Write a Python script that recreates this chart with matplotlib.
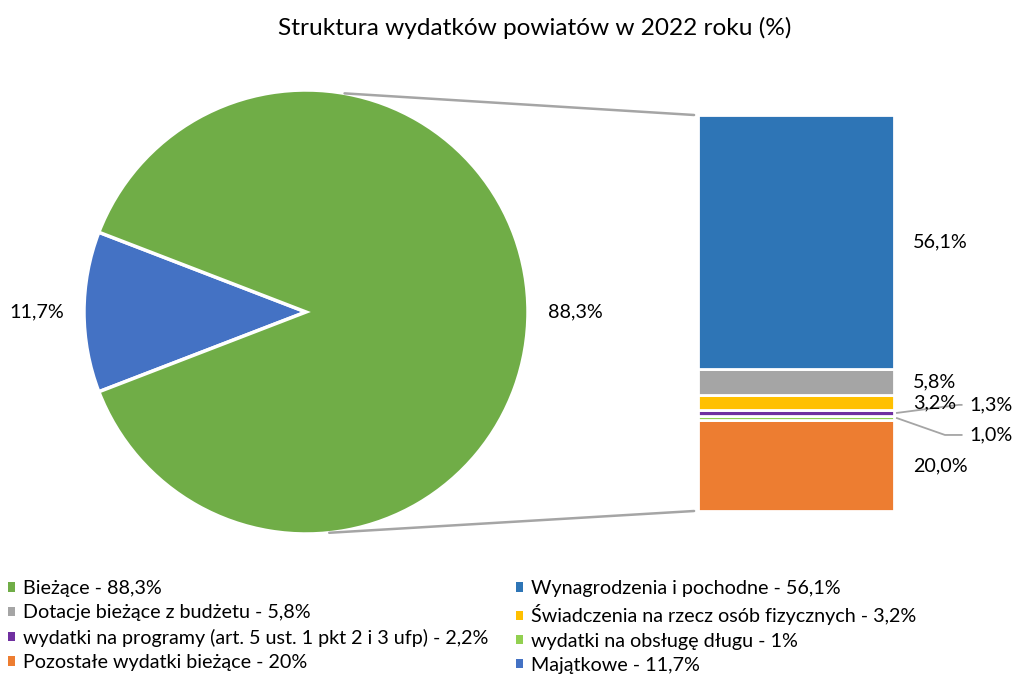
import matplotlib.pyplot as plt
from matplotlib.patches import Patch, ConnectionPatch
import numpy as np

plt.rcParams['font.family'] = ['Lato', 'DejaVu Sans']

# --- dane ---
pie_labels = ["Majątkowe", "Bieżące"]
pie_values = [11.7, 88.3]
pie_colors = ["#4472C4", "#70AD47"]

# rozbicie wydatków bieżących (od dołu słupka do góry)
bar_labels = ["Pozostałe wydatki bieżące", "wydatki na obsługę długu",
              "wydatki na programy (art. 5 ust. 1 pkt 2 i 3 ufp)",
              "Świadczenia na rzecz osób fizycznych",
              "Dotacje bieżące z budżetu", "Wynagrodzenia i pochodne"]
bar_values = [20.0, 1.0, 1.3, 3.2, 5.8, 56.1]
bar_colors = ["#ED7D31", "#92D050", "#7030A0", "#FFC000", "#A5A5A5", "#2E75B6"]

legend_texts = ["Bieżące - 88,3%", "Dotacje bieżące z budżetu - 5,8%",
                "wydatki na programy (art. 5 ust. 1 pkt 2 i 3 ufp) - 2,2%",
                "Pozostałe wydatki bieżące - 20%",
                "Wynagrodzenia i pochodne - 56,1%",
                "Świadczenia na rzecz osób fizycznych - 3,2%",
                "wydatki na obsługę długu - 1%", "Majątkowe - 11,7%"]
legend_colors = ["#70AD47", "#A5A5A5", "#7030A0", "#ED7D31",
                 "#2E75B6", "#FFC000", "#92D050", "#4472C4"]

W, H = 1013, 675
FS = 14.2
fig = plt.figure(figsize=(W / 100, H / 100), dpi=100)

def px_axes(x0, y0, x1, y1):
    return fig.add_axes([x0 / W, 1 - y1 / H, (x1 - x0) / W, (y1 - y0) / H])

def pct(v):
    return f"{v:.1f}%".replace(".", ",")

# --- wykres kołowy ---
ax_pie = px_axes(84, 90, 528, 534)
start = 180 - pie_values[0] / 100 * 360 / 2
wedges, _, autotexts = ax_pie.pie(
    pie_values, colors=pie_colors, startangle=start, radius=1,
    autopct=lambda p: pct(p), pctdistance=1.215,
    wedgeprops=dict(edgecolor="white", linewidth=2.5))
for t in autotexts:
    t.set_fontsize(FS)
    t.set_color("black")
ax_pie.set_xlim(-1, 1)
ax_pie.set_ylim(-1, 1)
ax_pie.set_aspect("equal")

# --- słupek ---
ax_bar = px_axes(698, 115, 894, 511)
bottoms = np.concatenate([[0], np.cumsum(bar_values)[:-1]])
ax_bar.bar(0, bar_values, width=1, bottom=bottoms, color=bar_colors,
           edgecolor="white", linewidth=2.0)
total = sum(bar_values)
ax_bar.set_xlim(-0.5, 0.5)
ax_bar.set_ylim(0, total)
ax_bar.axis("off")
ytr = ax_bar.get_yaxis_transform()

for b, v in zip(bottoms, bar_values):
    if v < 2:
        continue
    ax_bar.text(1.097, b + v / 2, pct(v), transform=ytr,
                ha="left", va="center", fontsize=FS)

# małe etykiety z liniami odniesienia
for idx, ty, bend in [(2, 0.268, 1.33), (1, 0.192, 1.26)]:
    v = bar_values[idx]
    yc = bottoms[idx] + v / 2
    yt = ty * total
    ax_bar.plot([1.015, bend, 1.345], [yc, yt, yt], transform=ytr,
                color="#A5A5A5", lw=1.3, clip_on=False)
    ax_bar.text(1.385, yt, pct(v), transform=ytr, ha="left", va="center",
                fontsize=FS)

# linie łączące
for ang, yb in [(80, total), (-84, 0)]:
    a = np.deg2rad(ang)
    con = ConnectionPatch(xyA=(np.cos(a), np.sin(a)), coordsA=ax_pie.transData,
                          xyB=(-0.52, yb), coordsB=ax_bar.transData,
                          color="#A5A5A5", lw=1.8)
    fig.add_artist(con)

fig.text(535 / W, 1 - 28 / H, "Struktura wydatków powiatów w 2022 roku (%)",
         fontsize=17.6, ha="center", va="center")

handles = [Patch(facecolor=c, edgecolor="none") for c in legend_colors]
fig.legend(handles, legend_texts, ncol=2, loc="upper left",
           bbox_to_anchor=(8 / W, 1 - 580 / H), frameon=False, fontsize=FS,
           handlelength=0.35, handleheight=0.35, handletextpad=0.4,
           labelspacing=0.37, columnspacing=1.4, borderaxespad=0,
           borderpad=0)

fig.savefig("out.png", dpi=100)
